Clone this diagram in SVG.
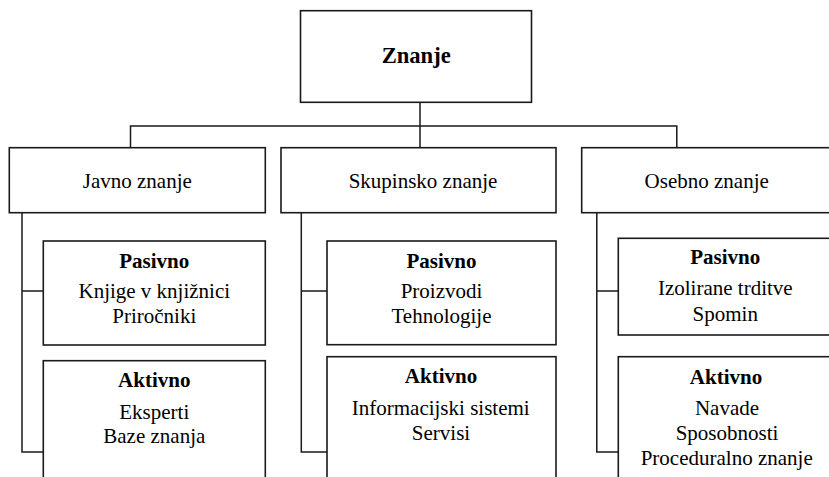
<svg xmlns="http://www.w3.org/2000/svg" width="829" height="477" viewBox="0 0 829 477">
  <style>
    .box { fill: #ffffff; stroke: #1a1a1a; stroke-width: 1.6; }
    .wire { fill: none; stroke: #1a1a1a; stroke-width: 1.5; }
    text { font-family: "Liberation Serif", "Times New Roman", serif; fill: #000; text-anchor: middle; }
    .t { font-size: 21px; }
    .h { font-size: 21px; font-weight: bold; }
    .root { font-size: 22.6px; font-weight: bold; }
  </style>
  <rect width="829" height="477" fill="#ffffff"/>

  <!-- tree wiring: root bus, then one spine per column -->
  <g id="connectors">
    <path class="wire" d="M420 102.5 V147.5 M130.5 147.5 V126 H676.8 V147.5"/>
    <path class="wire" d="M22 212.7 V452 H43.3 M22 291 H43.3"/>
    <path class="wire" d="M301.3 212.7 V452 H327 M301.3 291 H327"/>
    <path class="wire" d="M596.8 212.7 V452 H618.3 M596.8 291 H618.3"/>
  </g>

  <g id="znanje">
    <rect class="box" x="300.5" y="10.7" width="231" height="91.6"/>
    <text class="root" x="416.2" y="62.7">Znanje</text>
  </g>

  <g id="javno">
    <rect class="box" x="9.3" y="147.7" width="256" height="65"/>
    <text class="t" x="137.3" y="188.3">Javno znanje</text>
  </g>
  <g id="skupinsko">
    <rect class="box" x="281" y="147.7" width="275" height="65"/>
    <text class="t" x="423" y="188.3">Skupinsko znanje</text>
  </g>
  <g id="osebno">
    <rect class="box" x="581.7" y="147.7" width="250" height="65"/>
    <text class="t" x="706.7" y="188.3">Osebno znanje</text>
  </g>

  <g id="javno-pasivno">
    <rect class="box" x="43.3" y="241" width="222" height="104"/>
    <text class="h" x="154.3" y="267.7">Pasivno</text>
    <text class="t" x="154.3" y="298.3">Knjige v knjižnici</text>
    <text class="t" x="154.3" y="323.3">Priročniki</text>
  </g>
  <g id="javno-aktivno">
    <rect class="box" x="43.3" y="360.7" width="222" height="130"/>
    <text class="h" x="154.3" y="387.3">Aktivno</text>
    <text class="t" x="154.3" y="419.3">Eksperti</text>
    <text class="t" x="154.3" y="443.3">Baze znanja</text>
  </g>

  <g id="skupinsko-pasivno">
    <rect class="box" x="327" y="241" width="229" height="103.7"/>
    <text class="h" x="441.5" y="267.7">Pasivno</text>
    <text class="t" x="441.5" y="298.3">Proizvodi</text>
    <text class="t" x="441.5" y="323.3">Tehnologije</text>
  </g>
  <g id="skupinsko-aktivno">
    <rect class="box" x="327" y="356.7" width="229" height="134"/>
    <text class="h" x="441" y="383.3">Aktivno</text>
    <text class="t" x="440.7" y="415">Informacijski sistemi</text>
    <text class="t" x="441" y="440">Servisi</text>
  </g>

  <g id="osebno-pasivno">
    <rect class="box" x="618.3" y="238.3" width="214" height="96.7"/>
    <text class="h" x="725.3" y="264.3">Pasivno</text>
    <text class="t" x="725.3" y="295">Izolirane trditve</text>
    <text class="t" x="725.3" y="320.7">Spomin</text>
  </g>
  <g id="osebno-aktivno">
    <rect class="box" x="618.3" y="356.7" width="214" height="134"/>
    <text class="h" x="726" y="384">Aktivno</text>
    <text class="t" x="727" y="415">Navade</text>
    <text class="t" x="727" y="440">Sposobnosti</text>
    <text class="t" x="726.7" y="464.5">Proceduralno znanje</text>
  </g>
</svg>
